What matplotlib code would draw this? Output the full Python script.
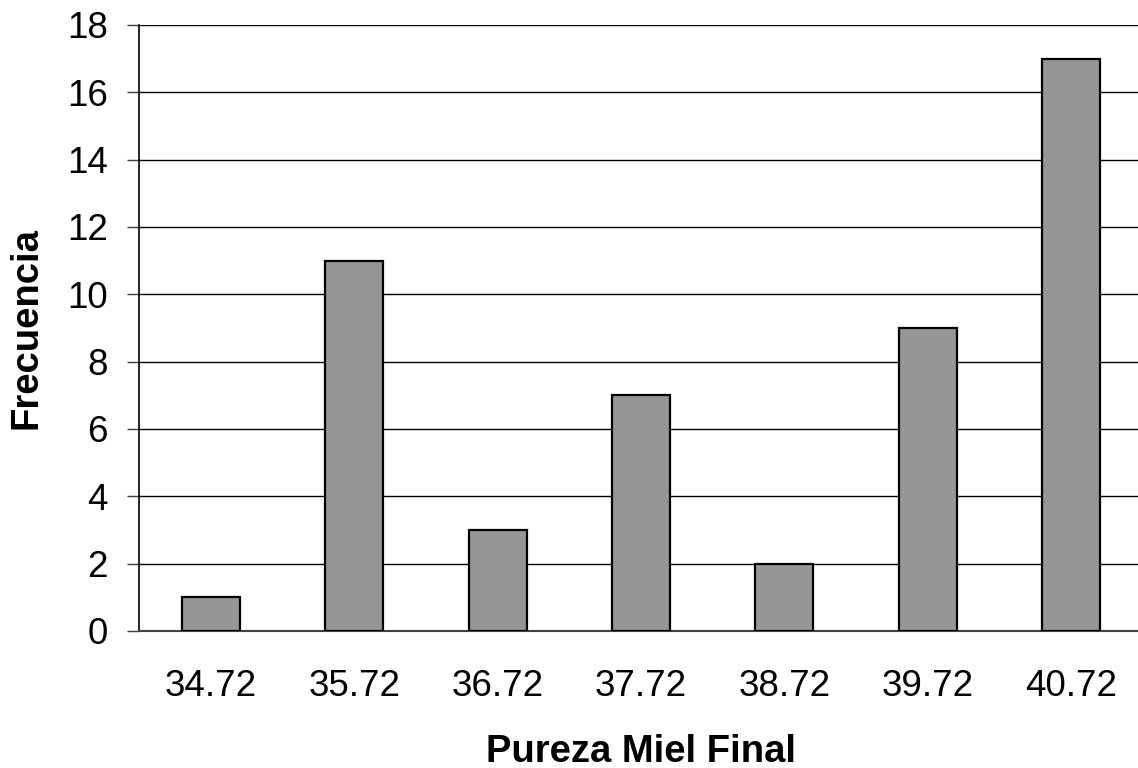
import numpy as np
import matplotlib
matplotlib.use("Agg")
import matplotlib.pyplot as plt

# Datos del histograma
categorias = ["34.72", "35.72", "36.72", "37.72", "38.72", "39.72", "40.72"]
frecuencias = [1, 11, 3, 7, 2, 9, 17]

plt.rcParams['font.family'] = ['Liberation Sans', 'DejaVu Sans']

fig = plt.figure(figsize=(11.38, 7.68), dpi=100)
# posiciones en pixeles: eje desde x=139 hasta ~1142 (sale del borde), y de 25 a 631
ax = fig.add_axes([139.3/1138, 1-631/768, 1003.2/1138, 606/768])

x = np.arange(len(categorias))
ax.bar(x, frecuencias, width=0.405, color="#969696", edgecolor="black", linewidth=1.6, zorder=3)

ax.set_xlim(-0.5, 6.5)
ax.set_ylim(0, 18)
ax.set_yticks(np.arange(0, 19, 2))
ax.set_xticks(x)
ax.set_xticklabels(categorias)

ax.yaxis.grid(True, color="black", linewidth=1.0, zorder=0)
ax.set_axisbelow(True)

for s in ["top", "right"]:
    ax.spines[s].set_visible(False)
ax.spines["left"].set_linewidth(1.2)
ax.spines["bottom"].set_color("#404040")
ax.spines["bottom"].set_linewidth(1.5)

ax.tick_params(axis="y", labelsize=26.5, length=8.6, width=1, pad=14, color="#404040")
ax.tick_params(axis="x", labelsize=26.5, length=0, pad=27)

ax.set_xlabel("Pureza Miel Final", fontsize=27.5, fontweight="bold")
ax.set_ylabel("Frecuencia", fontsize=27.5, fontweight="bold")
ax.xaxis.set_label_coords(0.5, -0.2)
ax.yaxis.set_label_coords(-0.112, 0.5)
ax.xaxis.label.set_va("center")
ax.yaxis.label.set_va("center")

plt.savefig("out.png", dpi=100)
